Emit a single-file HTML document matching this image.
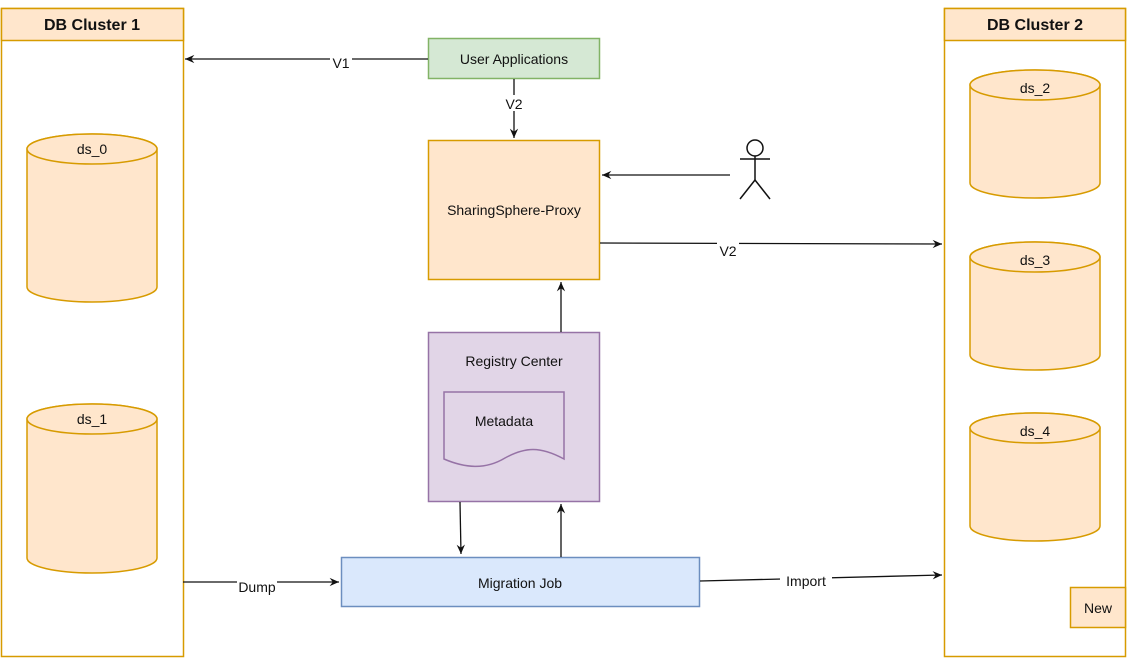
<!DOCTYPE html>
<html><head><meta charset="utf-8"><style>
html,body{margin:0;padding:0;background:#fff;}
svg{display:block;}
text{font-family:"Liberation Sans",sans-serif;font-size:14px;fill:#111;}
</style></head><body>
<svg width="1127" height="658" viewBox="0 0 1127 658" xmlns="http://www.w3.org/2000/svg">
<defs>
<marker id="a" viewBox="0 0 10 10" refX="9" refY="5" markerWidth="8" markerHeight="8" orient="auto-start-reverse"><path d="M0,1 L9,5 L0,9 L3,5 Z" fill="#111"/></marker>
</defs>
<!-- Clusters -->
<rect x="1.5" y="8.5" width="182" height="648" fill="#fff" stroke="#d79b00" stroke-width="1.5"/>
<rect x="1.5" y="8.5" width="182" height="32" fill="#ffe6cc" stroke="#d79b00" stroke-width="1.5"/>
<text x="92" y="30" text-anchor="middle" style="font-weight:bold;font-size:16px">DB Cluster 1</text>
<rect x="944.5" y="8.5" width="181" height="648" fill="#fff" stroke="#d79b00" stroke-width="1.5"/>
<rect x="944.5" y="8.5" width="181" height="32" fill="#ffe6cc" stroke="#d79b00" stroke-width="1.5"/>
<text x="1035" y="30" text-anchor="middle" style="font-weight:bold;font-size:16px">DB Cluster 2</text>
<!-- Cylinders -->
<g fill="#ffe6cc" stroke="#d79b00" stroke-width="1.5">
<path d="M27,149 A65,15 0 0 1 157,149 L157,287 A65,15 0 0 1 27,287 Z"/><ellipse cx="92" cy="149" rx="65" ry="15"/>
<path d="M27,419 A65,15 0 0 1 157,419 L157,558 A65,15 0 0 1 27,558 Z"/><ellipse cx="92" cy="419" rx="65" ry="15"/>
<path d="M970,85 A65,15 0 0 1 1100,85 L1100,183 A65,15 0 0 1 970,183 Z"/><ellipse cx="1035" cy="85" rx="65" ry="15"/>
<path d="M970,257 A65,15 0 0 1 1100,257 L1100,355 A65,15 0 0 1 970,355 Z"/><ellipse cx="1035" cy="257" rx="65" ry="15"/>
<path d="M970,428 A65,15 0 0 1 1100,428 L1100,526 A65,15 0 0 1 970,526 Z"/><ellipse cx="1035" cy="428" rx="65" ry="15"/>
<rect x="1070.5" y="587.5" width="55" height="40"/>
</g>
<text x="92" y="154" text-anchor="middle">ds_0</text>
<text x="92" y="424" text-anchor="middle">ds_1</text>
<text x="1035" y="93" text-anchor="middle">ds_2</text>
<text x="1035" y="265" text-anchor="middle">ds_3</text>
<text x="1035" y="436" text-anchor="middle">ds_4</text>
<text x="1098" y="613" text-anchor="middle">New</text>
<!-- Boxes -->
<rect x="428.5" y="38.5" width="171" height="40" fill="#d5e8d4" stroke="#82b366" stroke-width="1.5"/>
<text x="514" y="64" text-anchor="middle">User Applications</text>
<rect x="428.5" y="140.5" width="171" height="139" fill="#ffe6cc" stroke="#d79b00" stroke-width="1.5"/>
<text x="514" y="215" text-anchor="middle">SharingSphere-Proxy</text>
<rect x="428.5" y="332.5" width="171" height="169" fill="#e1d5e7" stroke="#9673a6" stroke-width="1.5"/>
<text x="514" y="366" text-anchor="middle">Registry Center</text>
<path d="M444,392 L564,392 L564,459 C540,446 525,447 505,458 C485,470 465,468 444,459 Z" fill="#e1d5e7" stroke="#9673a6" stroke-width="1.5"/>
<text x="504" y="426" text-anchor="middle">Metadata</text>
<rect x="341.5" y="557.5" width="358" height="49" fill="#dae8fc" stroke="#6c8ebf" stroke-width="1.5"/>
<text x="520" y="588" text-anchor="middle">Migration Job</text>
<!-- Actor -->
<g stroke="#111" stroke-width="1.5" fill="none">
<circle cx="755" cy="148" r="8"/>
<line x1="740" y1="159" x2="770" y2="159"/>
<line x1="755" y1="156" x2="755" y2="180"/>
<line x1="755" y1="180" x2="740" y2="199"/>
<line x1="755" y1="180" x2="770" y2="199"/>
</g>
<!-- Connectors -->
<g stroke="#111" stroke-width="1.3" fill="none">
<line x1="428" y1="59" x2="185" y2="59" marker-end="url(#a)"/>
<line x1="514" y1="79" x2="514" y2="138" marker-end="url(#a)"/>
<line x1="730" y1="175" x2="602" y2="175" marker-end="url(#a)"/>
<line x1="600" y1="243" x2="942" y2="244" marker-end="url(#a)"/>
<line x1="561" y1="332" x2="561" y2="282" marker-end="url(#a)"/>
<line x1="460" y1="502" x2="461" y2="554" marker-end="url(#a)"/>
<line x1="561" y1="557" x2="561" y2="504" marker-end="url(#a)"/>
<line x1="183" y1="582" x2="339" y2="582" marker-end="url(#a)"/>
<line x1="700" y1="581" x2="942" y2="575" marker-end="url(#a)"/>
</g>
<g>
<rect x="330" y="54" width="22" height="16" fill="#fff"/><text x="341" y="68" text-anchor="middle">V1</text>
<rect x="503" y="95" width="22" height="16" fill="#fff"/><text x="514" y="109" text-anchor="middle">V2</text>
<rect x="717" y="242" width="22" height="16" fill="#fff"/><text x="728" y="256" text-anchor="middle">V2</text>
<rect x="237" y="578" width="40" height="16" fill="#fff"/><text x="257" y="592" text-anchor="middle">Dump</text>
<rect x="780" y="572" width="52" height="16" fill="#fff"/><text x="806" y="586" text-anchor="middle">Import</text>
</g>
</svg>
</body></html>
